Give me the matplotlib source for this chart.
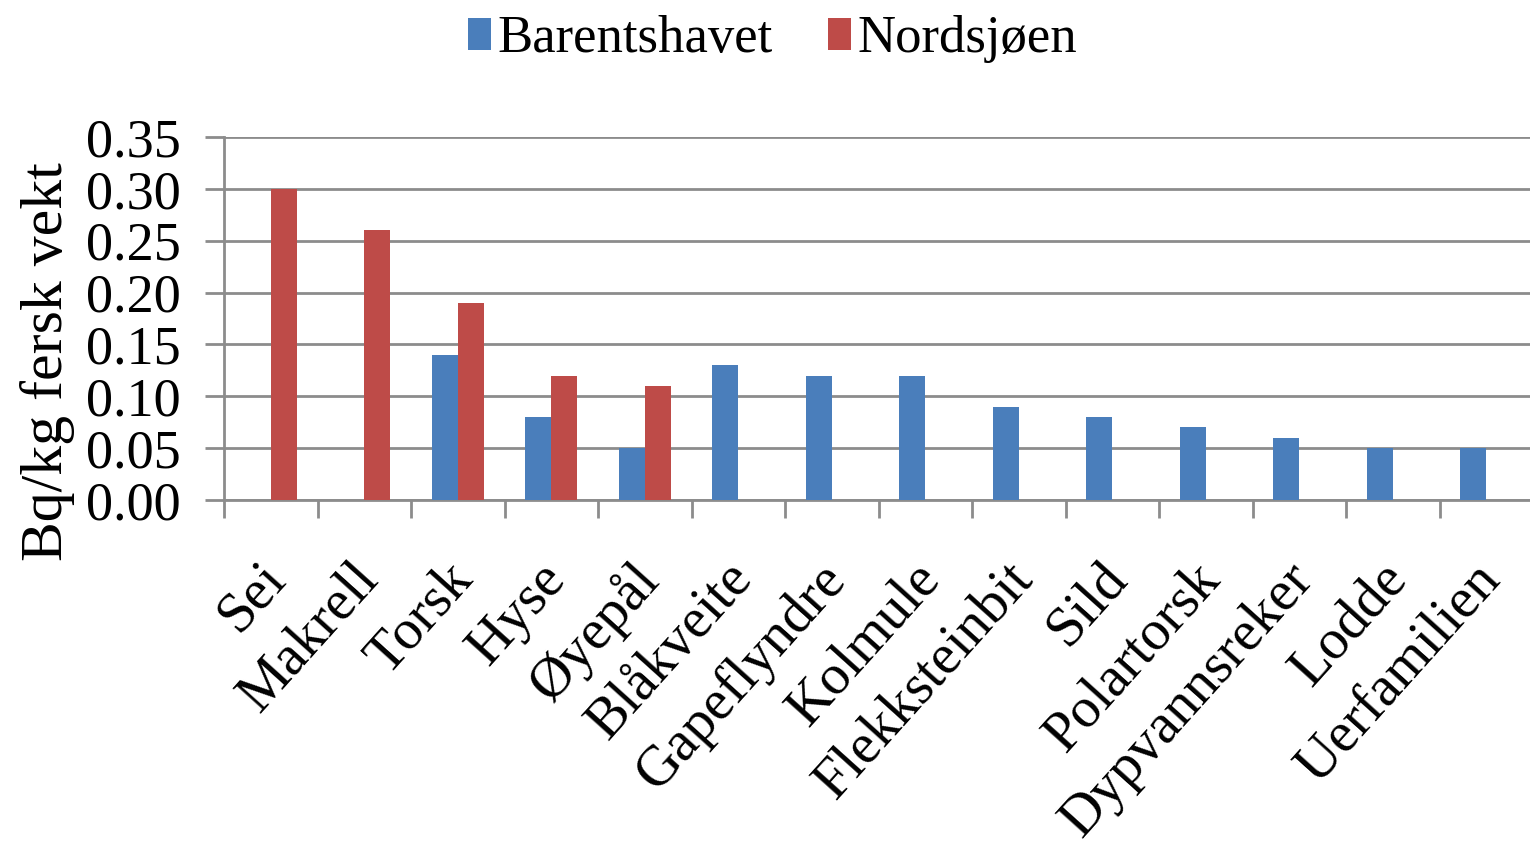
import matplotlib
matplotlib.use("Agg")
import matplotlib.pyplot as plt
import matplotlib.transforms as mtransforms
import numpy as np

categories = ["Sei", "Makrell", "Torsk", "Hyse", "Øyepål", "Blåkveite", "Gapeflyndre",
              "Kolmule", "Flekksteinbit", "Sild", "Polartorsk", "Dypvannsreker", "Lodde", "Uerfamilien"]
barentshavet = [np.nan, np.nan, 0.14, 0.08, 0.05, 0.13, 0.12, 0.12, 0.09, 0.08, 0.07, 0.06, 0.05, 0.05]
nordsjoen = [0.30, 0.26, 0.19, 0.12, 0.11, np.nan, np.nan, np.nan, np.nan, np.nan, np.nan, np.nan, np.nan, np.nan]
yticks = [0.00, 0.05, 0.10, 0.15, 0.20, 0.25, 0.30, 0.35]
series_names = ["Barentshavet", "Nordsjøen"]

plt.rcParams['font.family'] = ['Liberation Serif', 'DejaVu Serif']

fig = plt.figure(figsize=(15.3, 8.67), dpi=100)
ax = fig.add_axes([224/1530, 1-500/867, 1309/1530, (500-137)/867])

x = np.arange(len(categories))
w = 0.28
blue = "#4A7EBB"
red = "#BE4B48"
b1 = ax.bar(x - w/2, barentshavet, w, color=blue, label=series_names[0], zorder=3)
b2 = ax.bar(x + w/2, nordsjoen, w, color=red, label=series_names[1], zorder=3)

ax.set_xlim(-0.5, len(categories) - 0.5)
ax.set_ylim(0, 0.35)
ax.set_yticks(yticks)
ax.set_yticklabels([f"{v:.2f}" for v in yticks], fontsize=39)
ax.yaxis.grid(True, color="#8c8c8c", linewidth=2, zorder=0)
ax.tick_params(axis='y', length=14, width=2, color="#8c8c8c", pad=17)

ax.set_xticks(x)
ax.set_xticklabels(categories, rotation=48, ha='right', va='top', rotation_mode='anchor', fontsize=41)
ax.tick_params(axis='x', length=0, pad=38)
offset = mtransforms.ScaledTranslation(-14/100, 0, fig.dpi_scale_trans)
for lbl in ax.get_xticklabels():
    lbl.set_transform(lbl.get_transform() + offset)
ax.set_xticks(np.arange(-0.5, len(categories), 1), minor=True)
ax.tick_params(axis='x', which='minor', length=13, width=2, color="#8c8c8c")

for s in ['top', 'right']:
    ax.spines[s].set_visible(False)
for s in ['left', 'bottom']:
    ax.spines[s].set_color("#8c8c8c")
    ax.spines[s].set_linewidth(2)

ax.set_ylabel("Bq/kg fersk vekt", fontsize=43)
ax.yaxis.set_label_coords(-0.114, 0.38)

fig.legend(handles=[b1, b2], labels=series_names, loc='upper center', bbox_to_anchor=(0.505, 1.037),
           ncol=2, frameon=False, fontsize=38, handlelength=0.44, handleheight=0.57,
           handletextpad=0.12, columnspacing=1.05)

fig.savefig("out.png", dpi=100)
